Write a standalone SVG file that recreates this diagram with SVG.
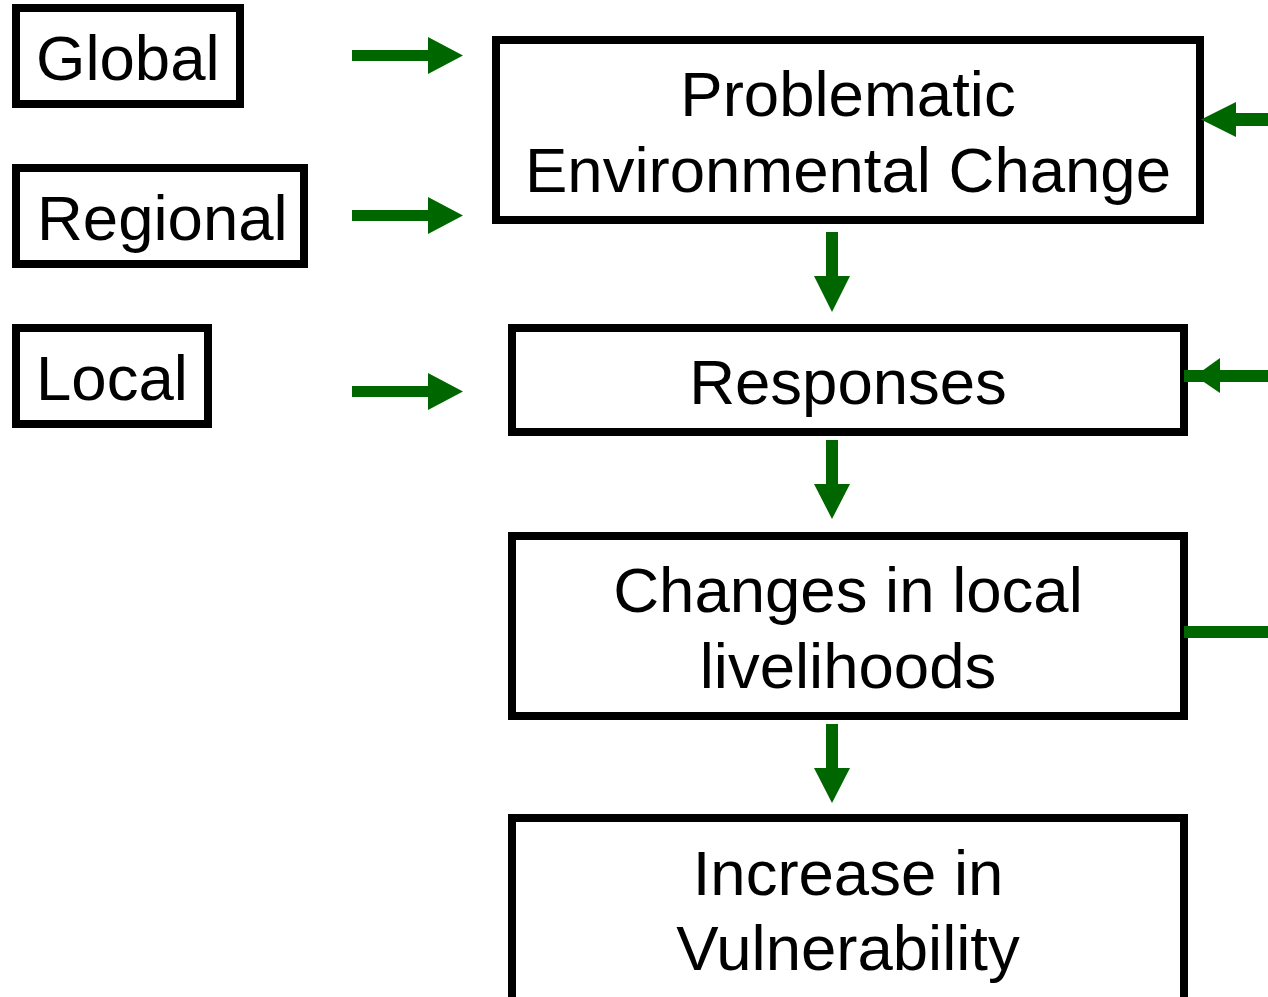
<svg xmlns="http://www.w3.org/2000/svg" width="1268" height="997" viewBox="0 0 1268 997">
<defs>
<style>
.box{fill:#fff;stroke:#000;stroke-width:8}
.t{font-family:"Liberation Sans",Arial,sans-serif;font-size:63.5px;fill:#000}
.c{text-anchor:middle}
.arr{fill:#006600}
</style>
</defs>
<rect width="1268" height="997" fill="#fff"/>
<g id="global"><rect class="box" x="16" y="8" width="224" height="96"/><text class="t" x="36" y="80">Global</text></g>
<g id="regional"><rect class="box" x="16" y="168" width="288" height="96"/><text class="t" x="37" y="240">Regional</text></g>
<g id="local"><rect class="box" x="16" y="328" width="192" height="96"/><text class="t" x="36" y="400">Local</text></g>
<g id="problematic"><rect class="box" x="496" y="40" width="704" height="180"/><text class="t c" x="848" y="116">Problematic</text><text class="t c" x="848" y="192">Environmental Change</text></g>
<g id="responses"><rect class="box" x="512" y="328" width="672" height="104"/><text class="t c" x="848" y="404">Responses</text></g>
<g id="changes"><rect class="box" x="512" y="536" width="672" height="180"/><text class="t c" x="848" y="612">Changes in local</text><text class="t c" x="848" y="688">livelihoods</text></g>
<g id="increase"><rect class="box" x="512" y="818" width="672" height="190"/><text class="t c" x="848" y="895">Increase in</text><text class="t c" x="848" y="970">Vulnerability</text></g>
<g id="connectors" class="arr">
<polygon points="352,50 428,50 428,37 463,55.5 428,74 428,61 352,61"/>
<polygon points="352,210 428,210 428,197 463,215.5 428,234 428,221 352,221"/>
<polygon points="352,386 428,386 428,373 463,391.5 428,410 428,397 352,397"/>
<polygon points="1268,113 1236,113 1236,102 1201,119.5 1236,137 1236,126 1268,126"/>
<rect x="1184" y="370" width="84" height="12"/>
<polygon points="1220,358 1195,376 1220,393"/>
<rect x="1184" y="626" width="84" height="12"/>
<polygon points="826,232 838,232 838,276 850,276 832,312 814,276 826,276"/>
<polygon points="826,440 838,440 838,484 850,484 832,519 814,484 826,484"/>
<polygon points="826,724 838,724 838,768 850,768 832,803 814,768 826,768"/>
</g>
</svg>
